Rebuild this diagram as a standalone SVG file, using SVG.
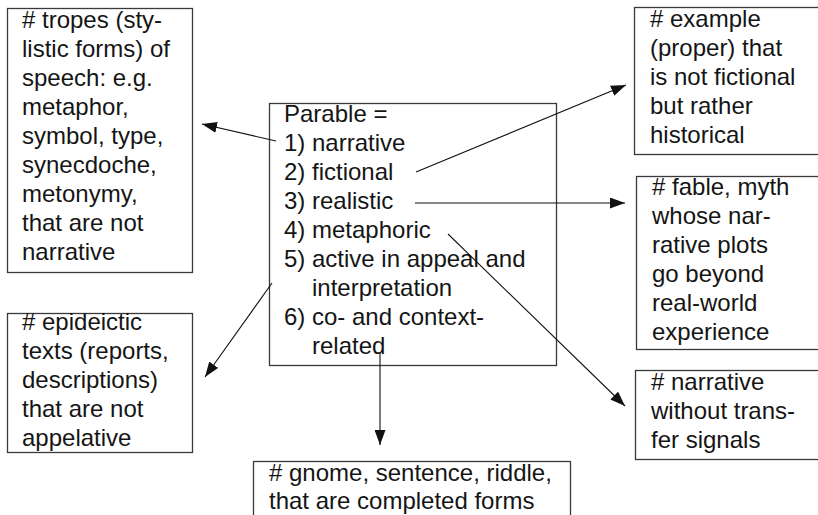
<svg xmlns="http://www.w3.org/2000/svg" width="818" height="515" viewBox="0 0 818 515">
<style>
  .box { fill: #ffffff; stroke: #3a3a3a; stroke-width: 1.3; }
  .t { font-family: "Liberation Sans", Arial, Helvetica, sans-serif; font-size: 24px; fill: #151515; }
  .c { stroke: #111111; stroke-width: 1.1; fill: none; marker-end: url(#ah); }
</style>
<defs>
  <marker id="ah" markerUnits="userSpaceOnUse" markerWidth="16" markerHeight="11" refX="15" refY="5.5" orient="auto">
    <path d="M0,0 L15,5.5 L0,11 z" fill="#111111"/>
  </marker>
</defs>
<rect width="818" height="515" fill="#ffffff"/>

<g id="tropes">
  <rect class="box" x="7.5" y="8.5" width="185" height="264"/>
  <text class="t">
    <tspan x="22" y="28"># tropes (sty-</tspan>
    <tspan x="22" y="57">listic forms) of</tspan>
    <tspan x="22" y="86">speech: e.g.</tspan>
    <tspan x="22" y="115">metaphor,</tspan>
    <tspan x="22" y="144">symbol, type,</tspan>
    <tspan x="22" y="173">synecdoche,</tspan>
    <tspan x="22" y="202">metonymy,</tspan>
    <tspan x="22" y="231">that are not</tspan>
    <tspan x="22" y="260">narrative</tspan>
  </text>
</g>

<g id="parable">
  <rect class="box" x="269.5" y="103.5" width="287" height="262"/>
  <text class="t">
    <tspan x="284" y="122">Parable =</tspan>
    <tspan x="284" y="151">1) narrative</tspan>
    <tspan x="284" y="180">2) fictional</tspan>
    <tspan x="284" y="209">3) realistic</tspan>
    <tspan x="284" y="238">4) metaphoric</tspan>
    <tspan x="284" y="267">5) active in appeal and</tspan>
    <tspan x="312" y="296">interpretation</tspan>
    <tspan x="284" y="325">6) co- and context-</tspan>
    <tspan x="312" y="354">related</tspan>
  </text>
</g>

<g id="example">
  <rect class="box" x="634.5" y="7.5" width="200" height="147"/>
  <text class="t">
    <tspan x="650" y="27"># example</tspan>
    <tspan x="650" y="56">(proper) that</tspan>
    <tspan x="650" y="85">is not fictional</tspan>
    <tspan x="650" y="114">but rather</tspan>
    <tspan x="650" y="143">historical</tspan>
  </text>
</g>

<g id="fable">
  <rect class="box" x="636.5" y="176.5" width="200" height="173"/>
  <text class="t">
    <tspan x="652" y="195"># fable, myth</tspan>
    <tspan x="652" y="224">whose nar-</tspan>
    <tspan x="652" y="253">rative plots</tspan>
    <tspan x="652" y="282">go beyond</tspan>
    <tspan x="652" y="311">real-world</tspan>
    <tspan x="652" y="340">experience</tspan>
  </text>
</g>

<g id="narrative">
  <rect class="box" x="635.5" y="370.5" width="200" height="89"/>
  <text class="t">
    <tspan x="651" y="390"># narrative</tspan>
    <tspan x="651" y="419">without trans-</tspan>
    <tspan x="651" y="448">fer signals</tspan>
  </text>
</g>

<g id="epideictic">
  <rect class="box" x="7.5" y="313.5" width="185" height="139"/>
  <text class="t">
    <tspan x="22" y="330"># epideictic</tspan>
    <tspan x="22" y="359">texts (reports,</tspan>
    <tspan x="22" y="388">descriptions)</tspan>
    <tspan x="22" y="417">that are not</tspan>
    <tspan x="22" y="446">appelative</tspan>
  </text>
</g>

<g id="gnome">
  <rect class="box" x="253.5" y="461.5" width="317" height="80"/>
  <text class="t">
    <tspan x="269" y="481"># gnome, sentence, riddle,</tspan>
    <tspan x="269" y="509">that are completed forms</tspan>
  </text>
</g>

<g id="connectors">
  <line class="c" x1="276" y1="141" x2="202" y2="124"/>
  <line class="c" x1="272" y1="283" x2="205" y2="377"/>
  <line class="c" x1="380" y1="352" x2="380" y2="445"/>
  <line class="c" x1="416" y1="172" x2="626" y2="85"/>
  <line class="c" x1="415" y1="203" x2="625" y2="203"/>
  <line class="c" x1="448" y1="234" x2="625" y2="406"/>
</g>
</svg>
